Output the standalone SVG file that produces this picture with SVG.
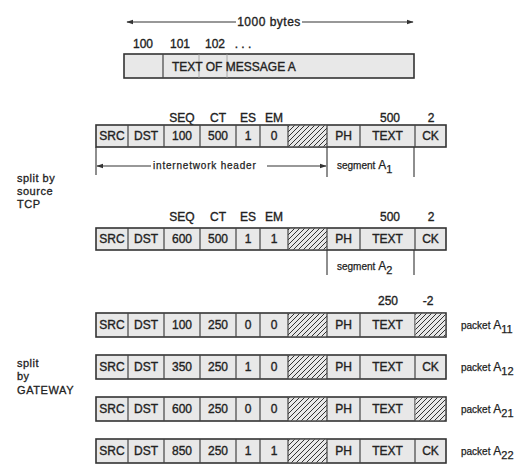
<svg xmlns="http://www.w3.org/2000/svg" xmlns:xlink="http://www.w3.org/1999/xlink" width="532" height="470" viewBox="0 0 532 470">
<style>
.bg{fill:#ffffff}
.cell{fill:#e8e8e8;stroke:#333;stroke-width:1.6}
.dv{stroke:#444;stroke-width:1.2;fill:none}
.faint{stroke:#9a9a9a;stroke-width:0.8}
.t{font-family:"Liberation Sans",Arial,sans-serif;font-size:12px;fill:#222;stroke:#222;stroke-width:0.35;text-anchor:middle}
.s{font-family:"Liberation Sans",Arial,sans-serif;font-size:10px;fill:#222;stroke:#222;stroke-width:0.25}
.l{font-family:"Liberation Sans",Arial,sans-serif;font-size:12px;fill:#222;stroke:#222;stroke-width:0.35}
.g{font-family:"Liberation Sans",Arial,sans-serif;font-size:11px;fill:#222;stroke:#222;stroke-width:0.3}
.ln{stroke:#333;stroke-width:1.2;fill:none}
.tick{stroke:#444;stroke-width:1.2;fill:none}
</style>
<defs>
<pattern id="hatch" patternUnits="userSpaceOnUse" width="5" height="5">
<rect width="5" height="5" fill="#e8e8e8"/>
<path d="M-1,1 L1,-1 M0,5 L5,0 M4,6 L6,4" stroke="#333" stroke-width="1"/>
</pattern>
<marker id="ah" viewBox="0 0 10 10" refX="9" refY="5" markerWidth="7" markerHeight="7" orient="auto-start-reverse" markerUnits="userSpaceOnUse">
<path d="M0,1.5 L10,5 L0,8.5 Z" fill="#333"/>
</marker>
<g id="frameR">
<rect x="96" y="0" width="350" height="22" class="cell"/>
<rect x="288" y="0.8" width="39" height="20.4" fill="url(#hatch)"/>
<path class="dv" d="M128,0V22M164,0V22M200,0V22M236,0V22M260,0V22M288,0V22M327,0V22M360,0V22M415,0V22"/>
</g>
<g id="frameP">
<rect x="96" y="0" width="350" height="24" class="cell"/>
<rect x="288" y="0.8" width="39" height="22.4" fill="url(#hatch)"/>
<path class="dv" d="M128,0V24M164,0V24M200,0V24M236,0V24M260,0V24M288,0V24M327,0V24M360,0V24M415,0V24"/>
</g>
</defs>
<rect class="bg" width="532" height="470"/>

<g id="connectors">
<line class="ln" x1="236" y1="22" x2="127" y2="22" marker-end="url(#ah)"/>
<line class="ln" x1="302" y1="22" x2="413" y2="22" marker-end="url(#ah)"/>
<line class="ln" x1="151" y1="166" x2="97" y2="166" marker-end="url(#ah)"/>
<line class="ln" x1="267" y1="166" x2="326" y2="166" marker-end="url(#ah)"/>
<path class="tick" d="M96,147V175M327,147V177M414,147V177"/>
<path class="tick" d="M327,250V275M414,250V275"/>
</g>

<g id="message">
<text class="l" x="269" y="26" text-anchor="middle" letter-spacing="0.5">1000 bytes</text>
<text class="t" x="143" y="48">100</text>
<text class="t" x="180" y="48">101</text>
<text class="t" x="215" y="48">102</text>
<text class="t" x="243" y="48">. . .</text>
<rect x="124" y="54" width="290" height="24" class="cell"/>
<line class="dv" x1="163" y1="54" x2="163" y2="78"/>
<line class="faint" x1="199" y1="54" x2="199" y2="78"/>
<line class="faint" x1="227" y1="54" x2="227" y2="78"/>
<text class="l" x="172" y="71" font-size="12.5">TEXT OF MESSAGE A</text>
</g>

<g id="segment1">
<text class="t" x="182" y="122">SEQ</text>
<text class="t" x="218" y="122">CT</text>
<text class="t" x="248" y="122">ES</text>
<text class="t" x="274" y="122">EM</text>
<text class="t" x="390" y="122">500</text>
<text class="t" x="431" y="122">2</text>
<use xlink:href="#frameR" y="125"/>
<text class="t" x="112" y="140">SRC</text>
<text class="t" x="146" y="140">DST</text>
<text class="t" x="182" y="140">100</text>
<text class="t" x="218" y="140">500</text>
<text class="t" x="248" y="140">1</text>
<text class="t" x="274" y="140">0</text>
<text class="t" x="343.5" y="140">PH</text>
<text class="t" x="387.5" y="140">TEXT</text>
<text class="t" x="430.5" y="140">CK</text>
<text class="s" x="153" y="169" font-size="11" letter-spacing="0.8">internetwork header</text>
<text class="s" x="337" y="169">segment <tspan font-size="12">A</tspan><tspan font-size="11" dy="4">1</tspan></text>
</g>

<g id="label-tcp">
<text class="g" x="17" y="182" letter-spacing="0.5">split by</text>
<text class="g" x="17" y="195" letter-spacing="0.5">source</text>
<text class="g" x="17" y="208" letter-spacing="0.5">TCP</text>
</g>

<g id="segment2">
<text class="t" x="182" y="221">SEQ</text>
<text class="t" x="218" y="221">CT</text>
<text class="t" x="248" y="221">ES</text>
<text class="t" x="274" y="221">EM</text>
<text class="t" x="390" y="221">500</text>
<text class="t" x="431" y="221">2</text>
<use xlink:href="#frameR" y="228"/>
<text class="t" x="112" y="243">SRC</text>
<text class="t" x="146" y="243">DST</text>
<text class="t" x="182" y="243">600</text>
<text class="t" x="218" y="243">500</text>
<text class="t" x="248" y="243">1</text>
<text class="t" x="274" y="243">1</text>
<text class="t" x="343.5" y="243">PH</text>
<text class="t" x="387.5" y="243">TEXT</text>
<text class="t" x="430.5" y="243">CK</text>
<text class="s" x="337" y="270">segment <tspan font-size="12">A</tspan><tspan font-size="11" dy="4">2</tspan></text>
</g>

<g id="label-gateway">
<text class="g" x="17" y="366.5" letter-spacing="0.5">split</text>
<text class="g" x="17" y="379.5" letter-spacing="0.5">by</text>
<text class="g" x="17" y="394" font-size="12" letter-spacing="0.6">GATEWAY</text>
</g>

<g id="packetA11">
<text class="t" x="388" y="305">250</text>
<text class="t" x="428" y="305">-2</text>
<use xlink:href="#frameP" y="313"/>
<rect x="415.6" y="313.8" width="29.6" height="22.4" fill="url(#hatch)"/>
<text class="t" x="112" y="329">SRC</text>
<text class="t" x="146" y="329">DST</text>
<text class="t" x="182" y="329">100</text>
<text class="t" x="218" y="329">250</text>
<text class="t" x="248" y="329">0</text>
<text class="t" x="274" y="329">0</text>
<text class="t" x="343.5" y="329">PH</text>
<text class="t" x="387.5" y="329">TEXT</text>
<text class="s" x="461" y="329">packet <tspan font-size="12">A</tspan><tspan font-size="11" dy="4">11</tspan></text>
</g>

<g id="packetA12">
<use xlink:href="#frameP" y="355"/>
<text class="t" x="112" y="371">SRC</text>
<text class="t" x="146" y="371">DST</text>
<text class="t" x="182" y="371">350</text>
<text class="t" x="218" y="371">250</text>
<text class="t" x="248" y="371">1</text>
<text class="t" x="274" y="371">0</text>
<text class="t" x="343.5" y="371">PH</text>
<text class="t" x="387.5" y="371">TEXT</text>
<text class="t" x="430.5" y="371">CK</text>
<text class="s" x="461" y="371">packet <tspan font-size="12">A</tspan><tspan font-size="11" dy="4">12</tspan></text>
</g>

<g id="packetA21">
<use xlink:href="#frameP" y="397"/>
<rect x="415.6" y="397.8" width="29.6" height="22.4" fill="url(#hatch)"/>
<text class="t" x="112" y="413">SRC</text>
<text class="t" x="146" y="413">DST</text>
<text class="t" x="182" y="413">600</text>
<text class="t" x="218" y="413">250</text>
<text class="t" x="248" y="413">0</text>
<text class="t" x="274" y="413">0</text>
<text class="t" x="343.5" y="413">PH</text>
<text class="t" x="387.5" y="413">TEXT</text>
<text class="s" x="461" y="413">packet <tspan font-size="12">A</tspan><tspan font-size="11" dy="4">21</tspan></text>
</g>

<g id="packetA22">
<use xlink:href="#frameP" y="439"/>
<text class="t" x="112" y="455">SRC</text>
<text class="t" x="146" y="455">DST</text>
<text class="t" x="182" y="455">850</text>
<text class="t" x="218" y="455">250</text>
<text class="t" x="248" y="455">1</text>
<text class="t" x="274" y="455">1</text>
<text class="t" x="343.5" y="455">PH</text>
<text class="t" x="387.5" y="455">TEXT</text>
<text class="t" x="430.5" y="455">CK</text>
<text class="s" x="461" y="455">packet <tspan font-size="12">A</tspan><tspan font-size="11" dy="4">22</tspan></text>
</g>
</svg>
